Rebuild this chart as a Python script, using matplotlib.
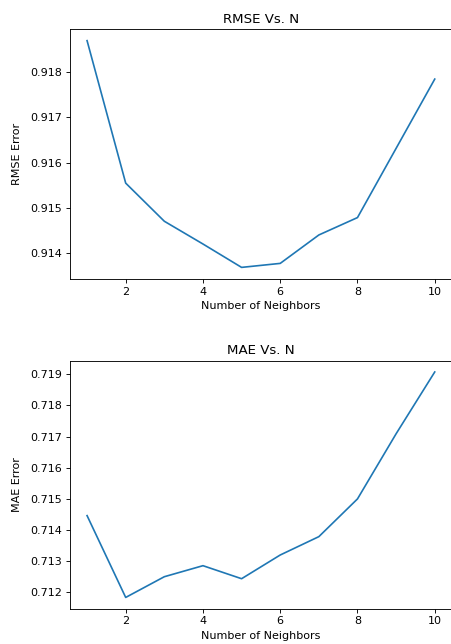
import numpy as np
import matplotlib
matplotlib.use('Agg')
import matplotlib.pyplot as plt

neighbors = [1, 2, 3, 4, 5, 6, 7, 8, 9, 10]
rmse = [0.918685, 0.915547, 0.914707, 0.914206, 0.913691,
        0.913779, 0.914405, 0.914788, 0.916313, 0.917838]
mae = [0.714465, 0.711839, 0.712504, 0.712858, 0.712440,
       0.713201, 0.713790, 0.715001, 0.717092, 0.719075]

fig = plt.figure(figsize=(451 / 80, 644 / 80), dpi=80)

ax1 = fig.add_axes([0.1545, 0.5672, 0.848, 0.3873])
ax1.plot(neighbors, rmse)
ax1.set_title('RMSE Vs. N')
ax1.set_xlabel('Number of Neighbors')
ax1.set_ylabel('RMSE Error')
ax1.yaxis.set_label_coords(-0.125, 0.5)
ax1.set_xticks([2, 4, 6, 8, 10])
ax1.set_yticks([0.914, 0.915, 0.916, 0.917, 0.918])

ax2 = fig.add_axes([0.1545, 0.0548, 0.848, 0.3851])
ax2.plot(neighbors, mae)
ax2.set_title('MAE Vs. N')
ax2.set_xlabel('Number of Neighbors')
ax2.set_ylabel('MAE Error')
ax2.yaxis.set_label_coords(-0.125, 0.5)
ax2.set_xticks([2, 4, 6, 8, 10])

fig.savefig('out.png', dpi=80)
plt.close(fig)
